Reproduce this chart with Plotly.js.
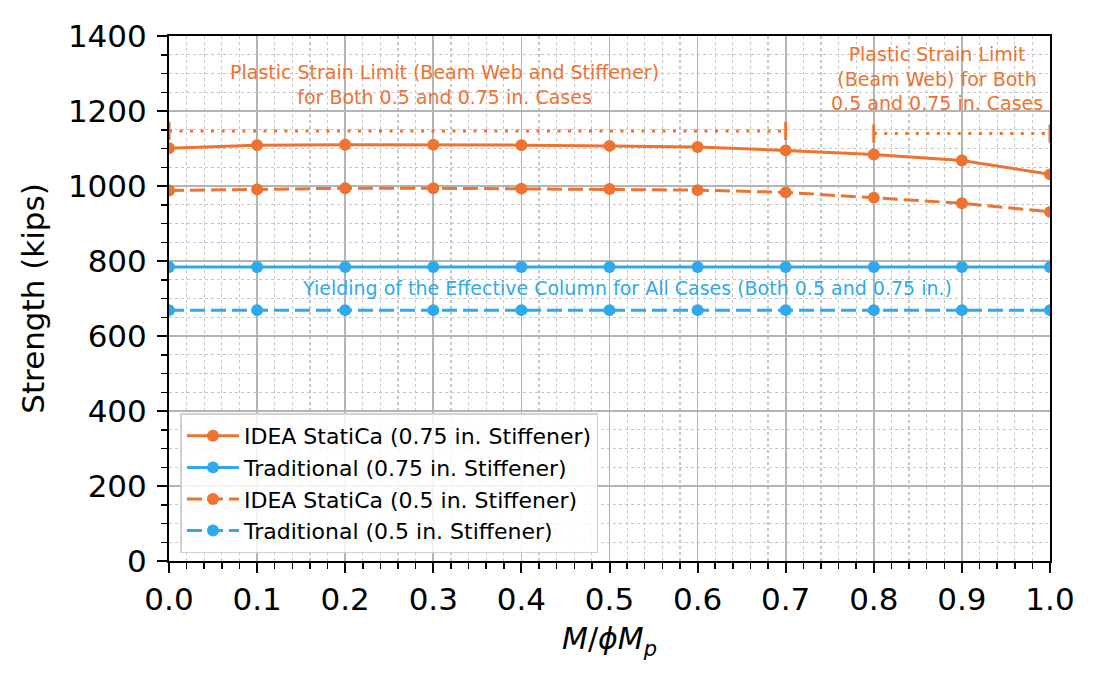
<!DOCTYPE html>
<html>
<head>
<meta charset="utf-8">
<script src="https://cdn.plot.ly/plotly-3.0.1.min.js"></script>
<style>
  html, body { margin: 0; padding: 0; background: #fff; }
  #chart { width: 1098px; height: 686px; }
</style>
</head>
<body>
<div id="chart"></div>
<script>
// moment ratio M / phi Mp
var ratio = [0.0, 0.1, 0.2, 0.3, 0.4, 0.5, 0.6, 0.7, 0.8, 0.9, 1.0];

// strength (kips)
var ideaThick = [1101, 1109, 1110, 1110, 1109, 1107, 1104, 1095, 1084, 1068, 1031];
var tradThick = [784, 784, 784, 784, 784, 784, 784, 784, 784, 784, 784];
var ideaThin = [988, 991, 994, 994, 993, 992, 989, 983, 969, 954, 931];
var tradThin = [669, 669, 669, 669, 669, 669, 669, 669, 669, 669, 669];

// plastic strain limits
var limitWebStiffX = [0.0, 0.7];
var limitWebStiffY = [1147, 1147];
var limitWebX = [0.8, 1.0];
var limitWebY = [1140, 1140];

var legendNames = [
    "IDEA StatiCa (0.75 in. Stiffener)",
    "Traditional (0.75 in. Stiffener)",
    "IDEA StatiCa (0.5 in. Stiffener)",
    "Traditional (0.5 in. Stiffener)"
];

var orange = "#EE7230";
var blue = "#2EA9EC";
var fontFam = "DejaVu Sans, sans-serif";

function series(y, name, color, dash) {
    return {
        type: "scatter",
        mode: "lines+markers",
        x: ratio,
        y: y,
        name: name,
        line: { color: color, width: 3, dash: dash },
        marker: { color: color, size: 12 }
    };
}

function limit(x, y) {
    return {
        type: "scatter",
        mode: "lines+markers",
        x: x,
        y: y,
        showlegend: false,
        hoverinfo: "skip",
        line: { color: orange, width: 3, dash: "3px,7.5px" },
        marker: { symbol: "line-ns", size: 13, color: orange, line: { color: orange, width: 3 } }
    };
}

var dataArray = [
    limit(limitWebStiffX, limitWebStiffY),
    limit(limitWebX, limitWebY),
    series(ideaThick, legendNames[0], orange, "solid"),
    series(tradThick, legendNames[1], blue, "solid"),
    series(ideaThin, legendNames[2], orange, "15px,6px"),
    series(tradThin, legendNames[3], blue, "15px,6px")
];

var axisCommon = {
    showline: true,
    linecolor: "black",
    linewidth: 2,
    mirror: true,
    ticks: "outside",
    ticklen: 10,
    tickwidth: 2,
    tickcolor: "black",
    showgrid: true,
    gridcolor: "#b4b4b4",
    gridwidth: 1.6,
    zeroline: false,
    tickfont: { family: fontFam, size: 31, color: "black" }
};

var layout = {
    width: 1098,
    height: 686,
    margin: { l: 169, r: 48, t: 36, b: 125, pad: 0 },
    paper_bgcolor: "white",
    plot_bgcolor: "white",
    font: { family: fontFam, color: "black" },
    xaxis: Object.assign({}, axisCommon, {
        range: [0, 1],
        dtick: 0.1,
        tick0: 0,
        tickformat: ".1f",
        minor: {
            dtick: 0.02, ticks: "outside", ticklen: 6, tickwidth: 1.5, tickcolor: "black",
            showgrid: true, gridcolor: "#c6c6c6", griddash: "dot", gridwidth: 1.2
        },
        title: {
            text: "<i>M</i>/<i>ϕM</i><sub><i>p</i></sub>",
            font: { family: fontFam, size: 30, color: "black" },
            standoff: 12
        }
    }),
    yaxis: Object.assign({}, axisCommon, {
        range: [0, 1400],
        dtick: 200,
        tick0: 0,
        ticklabelstandoff: 4,
        minor: {
            dtick: 50, ticks: "outside", ticklen: 6, tickwidth: 1.5, tickcolor: "black",
            showgrid: true, gridcolor: "#c6c6c6", griddash: "dot", gridwidth: 1.2
        },
        title: {
            text: "Strength (kips)",
            font: { family: fontFam, size: 31, color: "black" },
            standoff: 14
        }
    }),
    legend: {
        x: 0.013,
        y: 0.281,
        xanchor: "left",
        yanchor: "top",
        bgcolor: "rgba(255,255,255,0.85)",
        bordercolor: "#d0d0d0",
        borderwidth: 1.5,
        itemwidth: 52,
        font: { family: fontFam, size: 22, color: "black" },
        tracegroupgap: 0
    },
    annotations: [
        {
            x: 0.313, y: 1272, xref: "x", yref: "y",
            text: "Plastic Strain Limit (Beam Web and Stiffener)<br>for Both 0.5 and 0.75 in. Cases",
            showarrow: false,
            font: { family: fontFam, size: 19, color: orange },
            align: "center"
        },
        {
            x: 0.872, y: 1287, xref: "x", yref: "y",
            text: "Plastic Strain Limit<br>(Beam Web) for Both<br>0.5 and 0.75 in. Cases",
            showarrow: false,
            font: { family: fontFam, size: 19, color: orange },
            align: "center"
        },
        {
            x: 0.52, y: 727, xref: "x", yref: "y",
            text: "Yielding of the Effective Column for All Cases (Both 0.5 and 0.75 in.)",
            showarrow: false,
            font: { family: fontFam, size: 19, color: blue },
            align: "center"
        }
    ]
};

Plotly.newPlot("chart", dataArray, layout, { displayModeBar: false, staticPlot: true });
</script>
</body>
</html>
